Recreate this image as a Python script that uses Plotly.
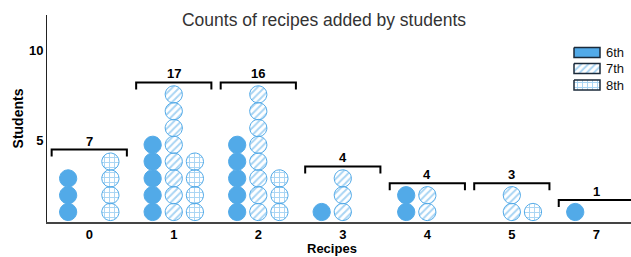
import numpy as np
import plotly.graph_objects as go

# ---- data ----
recipes = ["0", "1", "2", "3", "4", "5", "7"]
grade_names = ["6th", "7th", "8th"]
counts_6th = [3, 5, 5, 1, 2, 0, 1]
counts_7th = [0, 8, 8, 3, 2, 2, 0]
counts_8th = [4, 4, 3, 0, 0, 1, 0]
title_text = "Counts of recipes added by students"
y_ticks = [5, 10]

BLUE = "#52AAE8"
NAVY = "#1B2A3A"
FONT = "Liberation Sans, Arial, sans-serif"

# layout constants (pixels -> data units)
X_RANGE = [-0.5, 6.41]
Y_RANGE = [0.444, 11.944]
PX_X = 84.5   # pixels per category
PX_Y = 18.0   # pixels per student unit
R_PX = 8.6
RX = R_PX / PX_X
RY = R_PX / PX_Y
STEP = 16.8 / PX_Y
OFFS = [-0.25, 0.0, 0.25]

theta = np.linspace(0, 2 * np.pi, 37)

def circles(counts, off):
    xs, ys = [], []
    for i, c in enumerate(counts):
        for k in range(c):
            cx = i + off
            cy = 1 + k * STEP
            xs += list(cx + RX * np.cos(theta)) + [None]
            ys += list(cy + RY * np.sin(theta)) + [None]
    return xs, ys

patterns = [
    None,
    dict(shape="/", fgcolor=BLUE, bgcolor="white", size=5, solidity=0.4),
    dict(shape="+", fgcolor=BLUE, bgcolor="white", size=5, solidity=0.35),
]
all_counts = [counts_6th, counts_7th, counts_8th]

fig = go.Figure()
for g, (name, cnt, pat) in enumerate(zip(grade_names, all_counts, patterns)):
    xs, ys = circles(cnt, OFFS[g])
    kw = dict(fillcolor=BLUE) if pat is None else dict(fillpattern=pat, fillcolor="white")
    fig.add_trace(go.Scatter(x=xs, y=ys, mode="lines", fill="toself",
                             line=dict(color=BLUE, width=1), showlegend=False,
                             hoverinfo="skip", name=name, **kw))

# brackets with totals
W = 0.445
TICK = 7 / PX_Y
bx, by = [], []
for i in range(len(recipes)):
    m = max(counts_6th[i], counts_7th[i], counts_8th[i])
    top = 1 + (m - 1) * STEP + 12 / PX_Y
    bx += [i - W, i - W, i + W, i + W, None]
    by += [top - TICK, top, top, top - TICK, None]
    total = counts_6th[i] + counts_7th[i] + counts_8th[i]
    fig.add_annotation(x=i, y=top, text=f"<b>{total}</b>", showarrow=False,
                       yanchor="bottom", yshift=-1,
                       font=dict(size=13, color="black", family=FONT))
fig.add_trace(go.Scatter(x=bx, y=by, mode="lines", line=dict(color="black", width=2),
                         showlegend=False, hoverinfo="skip"))

# custom legend in a small pixel-unit subplot
ROWS = [52.5, 68.5, 85.0]
for g, (name, pat) in enumerate(zip(grade_names, patterns)):
    yc = ROWS[g]
    kw = dict(fillcolor=BLUE) if pat is None else dict(fillpattern=pat, fillcolor="white")
    fig.add_trace(go.Scatter(x=[574, 600, 600, 574, 574],
                             y=[yc - 5, yc - 5, yc + 5, yc + 5, yc - 5],
                             mode="lines", fill="toself", line=dict(color=NAVY, width=1.5),
                             xaxis="x2", yaxis="y2", showlegend=False, hoverinfo="skip", **kw))
    fig.add_annotation(x=604, y=yc, xref="x2", yref="y2", text=name, showarrow=False,
                       xanchor="left", yanchor="middle",
                       font=dict(size=13, color="#111111", family=FONT))

# x-axis title placed as annotation (tight under tick labels)
fig.add_annotation(x=(332 - 47) / 584, y=(222 - 249) / 207, xref="paper", yref="paper",
                   text="<b>Recipes</b>", showarrow=False, xanchor="center",
                   yanchor="middle", font=dict(size=13, color="black", family=FONT))

fig.update_layout(
    width=631, height=257,
    margin=dict(l=47, r=0, t=15, b=35),
    plot_bgcolor="white", paper_bgcolor="white",
    font=dict(family=FONT, color="black"),
    showlegend=False,
    title=dict(text=title_text, x=324 / 631, xanchor="center", y=1 - 20 / 257,
               yanchor="middle", font=dict(size=17.5, color="#333333", family=FONT)),
    xaxis=dict(range=X_RANGE, tickmode="array", tickvals=list(range(len(recipes))),
               ticktext=[f"<b>{r}</b>" for r in recipes], showgrid=False, zeroline=False,
               showline=True, linecolor="#444444", linewidth=1.5, ticks="",
               tickfont=dict(size=13)),
    yaxis=dict(range=Y_RANGE, tickmode="array", tickvals=y_ticks,
               ticktext=[f"<b>{v}</b>" for v in y_ticks], showgrid=False, zeroline=False,
               showline=True, linecolor="#222222", linewidth=1, ticks="",
               tickfont=dict(size=13), title=dict(text="<b>Students</b>", standoff=2,
               font=dict(size=14))),
    xaxis2=dict(domain=[(570 - 47) / 584, 1.0], range=[570, 631], visible=False,
                anchor="y2", fixedrange=True),
    yaxis2=dict(domain=[(222 - 95) / 207, (222 - 40) / 207], range=[95, 40],
                visible=False, anchor="x2", fixedrange=True),
)

fig.write_html("out.html", config={"displayModeBar": False},
               post_script="document.body.style.margin='0px';")
